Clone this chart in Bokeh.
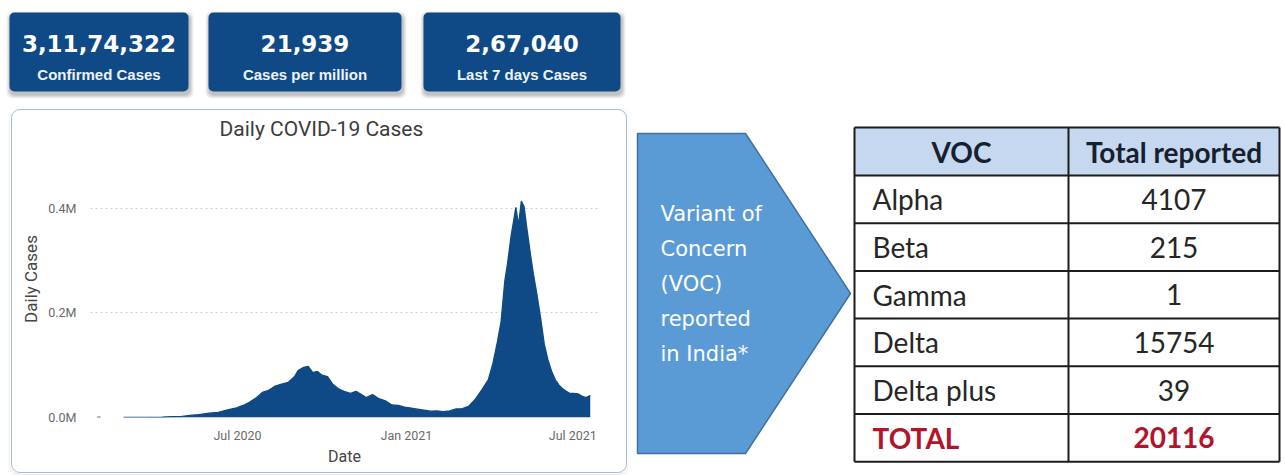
import pandas as pd
from bokeh.plotting import figure
from bokeh.models import (Range1d, ColumnDataSource, FixedTicker, CustomJSTickFormatter,
                          DatetimeTickFormatter, Spacer)
from bokeh.layouts import row, column
from bokeh.core.properties import value
from bokeh.embed import file_html
from bokeh.resources import INLINE

# ---------------- data ----------------
stat_values = ["3,11,74,322", "21,939", "2,67,040"]
stat_labels = ["Confirmed Cases", "Cases per million", "Last 7 days Cases"]

early_dates = ["2020-01-30", "2020-02-03"]
early_cases = [1, 3]

case_dates = [
    "2020-02-28", "2020-03-10", "2020-03-20", "2020-03-31", "2020-04-10", "2020-04-20",
    "2020-04-30", "2020-05-10", "2020-05-20", "2020-05-31", "2020-06-10", "2020-06-20",
    "2020-06-30", "2020-07-07", "2020-07-14", "2020-07-21", "2020-07-28", "2020-08-04",
    "2020-08-11", "2020-08-18", "2020-08-25", "2020-09-01", "2020-09-05", "2020-09-11",
    "2020-09-16", "2020-09-21", "2020-09-26", "2020-10-01", "2020-10-07", "2020-10-13",
    "2020-10-19", "2020-10-25", "2020-11-01", "2020-11-07", "2020-11-13", "2020-11-18",
    "2020-11-25", "2020-12-02", "2020-12-09", "2020-12-16", "2020-12-23", "2020-12-30",
    "2021-01-06", "2021-01-13", "2021-01-20", "2021-01-27", "2021-02-03", "2021-02-10",
    "2021-02-17", "2021-02-24", "2021-03-03", "2021-03-10", "2021-03-17", "2021-03-24",
    "2021-03-31", "2021-04-05", "2021-04-10", "2021-04-14", "2021-04-18", "2021-04-21",
    "2021-04-25", "2021-04-28", "2021-04-30", "2021-05-03", "2021-05-06", "2021-05-09",
    "2021-05-12", "2021-05-16", "2021-05-19", "2021-05-23", "2021-05-27", "2021-05-31",
    "2021-06-04", "2021-06-08", "2021-06-12", "2021-06-16", "2021-06-20", "2021-06-24",
    "2021-06-28", "2021-07-02", "2021-07-07", "2021-07-11", "2021-07-15", "2021-07-20",
]
daily_cases = [
    0, 20, 60, 300, 800, 1500,
    1800, 4000, 5600, 8300, 10000, 14500,
    18500, 23000, 29000, 37000, 48000, 52000,
    60000, 64000, 67000, 78000, 90000, 96000,
    98000, 86000, 88000, 81000, 78000, 63000,
    55000, 50000, 46000, 50000, 44000, 38000,
    44000, 36000, 32000, 24000, 23000, 20000,
    18000, 16000, 14000, 12000, 12500, 11000,
    12500, 16500, 17000, 22000, 35000, 53000,
    72000, 103000, 145000, 184000, 261000, 295000,
    349000, 380000, 402000, 368000, 414000, 403000,
    362000, 311000, 276000, 235000, 190000, 140000,
    110000, 88000, 72000, 62000, 55000, 50000,
    46000, 46000, 45000, 41000, 38000, 42000,
]

x_tick_dates = ["2020-07-01", "2021-01-01", "2021-07-01"]
y_tick_values = [0, 200000, 400000]
grid_values = [200000, 400000]

arrow_lines = ["Variant of", "Concern", "(VOC)", "reported", "in India*"]

voc_header = ["VOC", "Total reported"]
voc_names = ["Alpha", "Beta", "Gamma", "Delta", "Delta plus"]
voc_counts = [4107, 215, 1, 15754, 39]
total_label = "TOTAL"
voc_total = 20116

# ---------------- styles ----------------
NAVY = "#0f4a87"
AREA = "#104a86"


def blank(w, h):
    p = figure(width=w, height=h, x_range=Range1d(0, w), y_range=Range1d(h, 0),
               x_axis_type=None, y_axis_type=None, toolbar_location=None,
               output_backend="svg", min_border=0)
    p.outline_line_color = None
    p.background_fill_color = "white"
    p.border_fill_color = "white"
    return p


LEFT_W = 628
STATS_H = 108
CHART_PAD = 10
CHART_W = LEFT_W - CHART_PAD
CHART_H = 366
MID_W = 224
TBL_W = 432
FULL_H = STATS_H + CHART_H

# ---------------- stat cards ----------------
stats = blank(LEFT_W, STATS_H)
box_left = [9, 208, 423]
box_right = [188, 401, 620]
box_top, box_bottom = 12, 91
for k, a in [(4, 0.05), (3, 0.06), (2, 0.07), (1, 0.08)]:
    stats.quad(left=[l - k + 1 for l in box_left], right=[r + k + 1 for r in box_right],
               top=box_top - k + 3, bottom=box_bottom + k + 3,
               fill_color="#000000", fill_alpha=a, line_color=None, border_radius=6)
stats.quad(left=box_left, right=box_right, top=box_top, bottom=box_bottom,
           fill_color=NAVY, line_color=None, border_radius=5)
cx = [(l + r) / 2 for l, r in zip(box_left, box_right)]
stats.text(x=cx, y=[43] * 3, text=stat_values, text_color="white",
           text_font=value("DejaVu Sans"), text_font_style="bold",
           text_font_size=value("23px"), text_align="center", text_baseline="middle")
stats.text(x=cx, y=[74] * 3, text=stat_labels, text_color="#eef3fa",
           text_font=value("Liberation Sans"), text_font_style="bold",
           text_font_size=value("15px"), text_align="center", text_baseline="middle")

# ---------------- daily cases chart ----------------
src = ColumnDataSource(dict(date=pd.to_datetime(case_dates), cases=daily_cases))
early = ColumnDataSource(dict(date=pd.to_datetime(early_dates), cases=early_cases))

chart = figure(width=CHART_W, height=CHART_H, x_axis_type="datetime",
               x_range=Range1d(pd.Timestamp("2020-01-23"), pd.Timestamp("2021-07-29")),
               y_range=Range1d(0, 530000), toolbar_location=None, output_backend="svg",
               min_border_left=80, min_border_right=30, min_border_top=32,
               min_border_bottom=57, title="Daily COVID-19 Cases")
chart.outline_line_color = None
chart.background_fill_color = None
chart.border_fill_color = None
chart.styles = {"outline": "1.5px solid #a9bdd0", "outline-offset": "-2px",
                "border-radius": "10px", "box-shadow": "0 1px 3px rgba(0,0,0,0.12)",
                "background": "white"}

chart.title.align = "left"
chart.title.offset = 129
chart.title.standoff = 0
chart.title.text_font = "Roboto"
chart.title.text_font_size = "21px"
chart.title.text_font_style = "normal"
chart.title.text_color = "#3c3c3c"

chart.varea(x="date", y1=0, y2="cases", source=src, fill_color=AREA)
chart.line(x="date", y="cases", source=src, line_color=AREA, line_width=1.3)
chart.line(x="date", y="cases", source=early, line_color="#777777", line_width=2)

xa = chart.xaxis[0]
xa.ticker = FixedTicker(ticks=[pd.Timestamp(d).value / 1e6 for d in x_tick_dates])
xa.formatter = DatetimeTickFormatter(days="%b %Y", months="%b %Y", years="%b %Y")
ya = chart.yaxis[0]
ya.ticker = FixedTicker(ticks=y_tick_values)
ya.formatter = CustomJSTickFormatter(code="return (tick/1e6).toFixed(1) + 'M';")
xa.axis_label = "Date"
ya.axis_label = "Daily Cases"
for ax in (xa, ya):
    ax.axis_line_color = None
    ax.major_tick_line_color = None
    ax.minor_tick_line_color = None
    ax.major_label_text_font = "Roboto"
    ax.major_label_text_font_size = "12.5px"
    ax.major_label_text_color = "#6a6a6a"
    ax.axis_label_text_font = "Roboto"
    ax.axis_label_text_font_style = "normal"
    ax.axis_label_text_color = "#454545"
xa.major_label_standoff = 4
ya.major_label_standoff = 8
xa.axis_label_text_font_size = "16px"
ya.axis_label_text_font_size = "17px"
xa.axis_label_standoff = 1
ya.axis_label_standoff = 4

chart.xgrid.visible = False
chart.ygrid.ticker = FixedTicker(ticks=grid_values)
chart.ygrid.grid_line_color = "#cfcfcf"
chart.ygrid.grid_line_dash = "2 3"
chart.ygrid.grid_line_width = 1

# ---------------- arrow ----------------
mid = blank(MID_W, FULL_H)
a_l, a_r, a_tip, a_top, a_bot = 9, 117, 222, 133, 453
mid.patch([a_l, a_r, a_tip, a_r, a_l], [a_top, a_top, (a_top + a_bot) / 2, a_bot, a_bot],
          fill_color="#5b9bd5", line_color="#41719c", line_width=1.5)
mid.text(x=[32] * len(arrow_lines), y=[213 + 35 * i for i in range(len(arrow_lines))],
         text=arrow_lines, text_color="white", text_font=value("DejaVu Sans"),
         text_font_size=value("21px"), text_align="left", text_baseline="middle")

# ---------------- table ----------------
tbl = blank(TBL_W, FULL_H)
t_left, t_mid, t_right = 2, 216, 427
t_top, head_h, row_h = 127, 48, 47.7
n_rows = len(voc_names) + 1
t_bottom = t_top + head_h + row_h * n_rows
tbl.quad(left=[t_left], right=[t_right], top=[t_top], bottom=[t_top + head_h],
         fill_color="#c5d8ef", line_color=None)
ys = [t_top, t_top + head_h] + [t_top + head_h + row_h * (i + 1) for i in range(n_rows)]
tbl.segment(x0=[t_left] * len(ys), x1=[t_right] * len(ys), y0=ys, y1=ys,
            line_color="#1c1c1c", line_width=2)
tbl.segment(x0=[t_left, t_mid, t_right], x1=[t_left, t_mid, t_right],
            y0=[t_top] * 3, y1=[t_bottom] * 3, line_color="#1c1c1c", line_width=2)

col1_c = (t_left + t_mid) / 2
col2_c = (t_mid + t_right) / 2
tbl.text(x=[col1_c, col2_c], y=[t_top + head_h / 2] * 2, text=voc_header,
         text_color="#17202e", text_font=value("Lato"), text_font_style="bold",
         text_font_size=value("28px"), text_align="center", text_baseline="middle")
row_y = [t_top + head_h + row_h * (i + 0.5) for i in range(len(voc_names))]
tbl.text(x=[20] * len(voc_names), y=row_y, text=voc_names, text_color="#262626",
         text_font=value("Lato"), text_font_size=value("28px"),
         text_align="left", text_baseline="middle")
tbl.text(x=[col2_c] * len(voc_names), y=row_y, text=[str(c) for c in voc_counts],
         text_color="#262626", text_font=value("Lato"), text_font_size=value("28px"),
         text_align="center", text_baseline="middle")
ty = t_top + head_h + row_h * (n_rows - 0.5)
tbl.text(x=[20], y=[ty], text=[total_label], text_color="#b3132b", text_font=value("Lato"),
         text_font_style="bold", text_font_size=value("28px"),
         text_align="left", text_baseline="middle")
tbl.text(x=[col2_c], y=[ty], text=[str(voc_total)], text_color="#b3132b",
         text_font=value("Lato"), text_font_style="bold", text_font_size=value("28px"),
         text_align="center", text_baseline="middle")

left = column(stats, row(Spacer(width=CHART_PAD, height=CHART_H), chart, spacing=0),
              spacing=0)
layout = row(left, mid, tbl, spacing=0)

open("out.html", "w").write(file_html(layout, INLINE))
